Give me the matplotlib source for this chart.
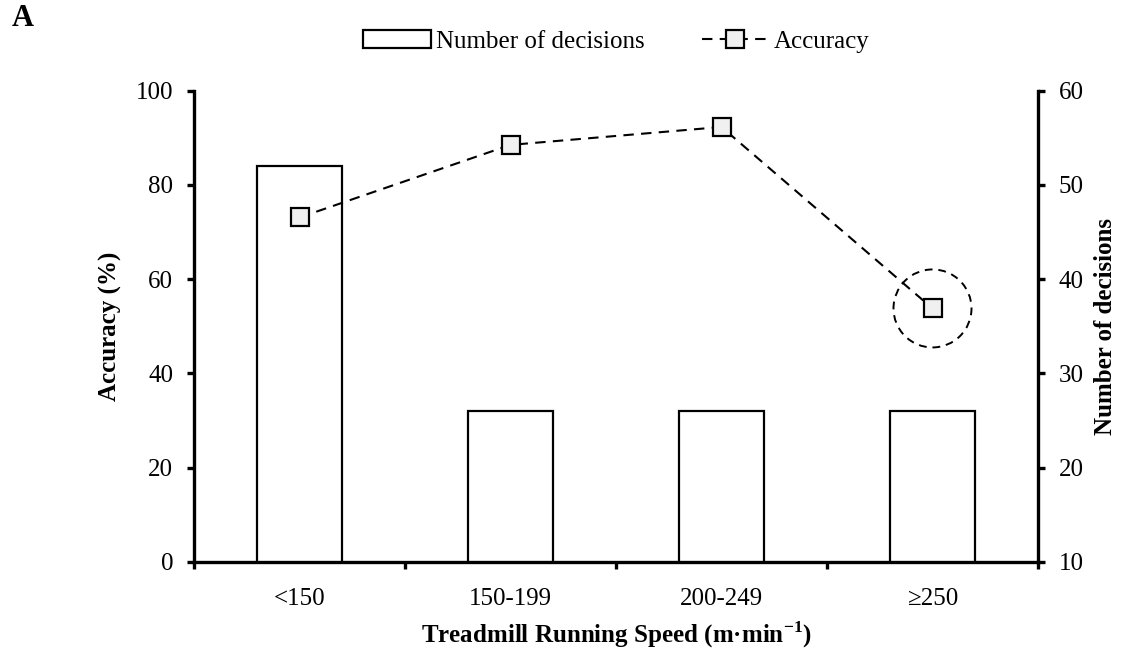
import numpy as np
import matplotlib
matplotlib.use("Agg")
import matplotlib.pyplot as plt
from matplotlib.patches import Circle
from matplotlib.transforms import ScaledTranslation

plt.rcParams['font.family'] = ['Liberation Serif', 'DejaVu Serif']
plt.rcParams['mathtext.fontset'] = 'custom'
plt.rcParams['mathtext.rm'] = 'Liberation Serif'
plt.rcParams['mathtext.bf'] = 'Liberation Serif:bold'

# data
speeds = ['<150', '150-199', '200-249', '\u2265250']
decisions = [52, 26, 26, 26]
accuracy = [73.1, 88.5, 92.3, 53.8]

x = np.arange(len(speeds))

fig = plt.figure(figsize=(11.25, 6.51), dpi=100)
ax = fig.add_axes([194/1125, 1 - 562/651, 844/1125, 471.3/651])
ax2 = ax.twinx()

# bars on the right axis, drawn behind the line
ax2.bar(x, decisions, width=0.4, color='white', edgecolor='black', linewidth=1.6,
        label='Number of decisions')
ax2.set_ylim(10, 60)
ax2.set_yticks(range(10, 61, 10))

ax.set_zorder(ax2.get_zorder() + 1)
ax.patch.set_visible(False)

ax.plot(x, accuracy, linestyle=(0, (5, 3.5)), color='black', linewidth=1.5,
        marker='s', markersize=13.5, markerfacecolor='#f0f0f0',
        markeredgecolor='black', markeredgewidth=1.6, label='Accuracy')

# dashed circle around the last point
i = len(x) - 1
circ = Circle((0, 0), radius=0.39, fill=False, edgecolor='black', linewidth=1.4,
              linestyle=(0, (4, 3)),
              transform=fig.dpi_scale_trans + ScaledTranslation(x[i], accuracy[i], ax.transData))
ax.add_artist(circ)

ax.set_ylim(0, 100)
ax.set_yticks(range(0, 101, 20))
ax.set_xlim(-0.5, len(x) - 0.5)
ax.set_xticks(np.arange(-0.5, len(x), 1.0))
ax.set_xticklabels([])
ax.set_xticks(x, minor=True)
ax.set_xticklabels(speeds, minor=True)

for a in (ax, ax2):
    for s in a.spines.values():
        s.set_linewidth(2.4)
    a.spines['top'].set_visible(False)
ax.spines['right'].set_visible(False)
ax2.spines['left'].set_visible(False)
ax2.spines['bottom'].set_visible(False)

ax.tick_params(axis='y', direction='out', length=5, width=2.4, labelsize=18, pad=10)
ax2.tick_params(axis='y', direction='out', length=5, width=2.4, labelsize=18, pad=10)
ax.tick_params(axis='x', which='major', direction='out', length=5, width=2.4)
ax.tick_params(axis='x', which='minor', length=0, labelsize=18, pad=19)

ax.set_ylabel('Accuracy (%)', fontsize=18, fontweight='bold')
ax.yaxis.set_label_coords(-0.085, 0.5)
ax2.set_ylabel('Number of decisions', fontsize=18, fontweight='bold')
ax2.yaxis.set_label_coords(1.066, 0.5)
ax.set_xlabel('Treadmill Running Speed (m\u00b7min' + r'$^{\mathbf{-1}}$' + ')',
              fontsize=18, fontweight='bold')
ax.xaxis.set_label_coords(0.5, -0.122)

h1, l1 = ax2.get_legend_handles_labels()
h2, l2 = ax.get_legend_handles_labels()
fig.legend(h1 + h2, l1 + l2, loc='center', bbox_to_anchor=(0.548, 0.936), ncol=2,
           frameon=False, fontsize=18, handlelength=2.7, handletextpad=0.2,
           columnspacing=2.3)

fig.text(0.010, 0.972, 'A', fontsize=22, fontweight='bold', va='center', ha='left')

fig.savefig('out.png', dpi=100)
